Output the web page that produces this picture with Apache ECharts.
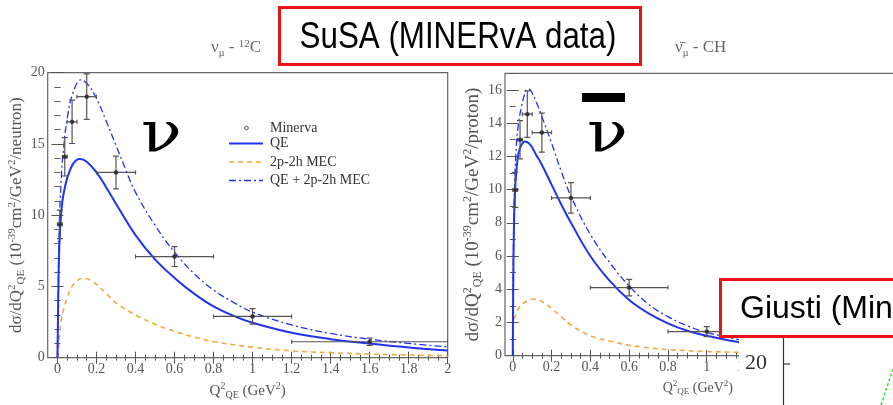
<!DOCTYPE html>
<html>
<head>
<meta charset="utf-8">
<script src="https://cdn.jsdelivr.net/npm/echarts@6/dist/echarts.min.js"></script>
<style>
  html, body { margin: 0; padding: 0; background: #fff; }
  #chart { width: 893px; height: 405px; }
</style>
</head>
<body>
<div id="chart"></div>
<script>
// ---- nu_mu on 12C (per neutron) ----
const nuQeQ2   = [0, 0.005, 0.01, 0.02, 0.03, 0.05, 0.08, 0.115, 0.15, 0.2, 0.25, 0.3, 0.4, 0.5, 0.6, 0.7, 0.8, 0.9, 1.0, 1.2, 1.4, 1.6, 1.8, 2.0];
const nuQe     = [0, 5, 8, 10.3, 11.4, 12.6, 13.6, 13.94, 13.75, 13.0, 11.95, 10.8, 8.6, 6.9, 5.6, 4.5, 3.6, 2.95, 2.45, 1.75, 1.3, 1.0, 0.72, 0.5];
const nuMecQ2  = [0.003, 0.01, 0.02, 0.05, 0.08, 0.13, 0.18, 0.25, 0.3, 0.4, 0.5, 0.6, 0.7, 0.8, 1.0, 1.2, 1.4, 1.6, 1.8, 2.0];
const nuMec    = [0, 1.5, 2.7, 4.2, 5.1, 5.57, 5.35, 4.5, 3.85, 3.0, 2.35, 1.85, 1.45, 1.13, 0.74, 0.48, 0.35, 0.26, 0.19, 0.14];
const nuTotQ2  = [0, 0.005, 0.01, 0.02, 0.03, 0.05, 0.08, 0.12, 0.16, 0.2, 0.25, 0.3, 0.35, 0.4, 0.5, 0.6, 0.7, 0.8, 0.9, 1.0, 1.2, 1.4, 1.6, 1.8, 2.0];
const nuTot    = [0, 6, 9.5, 12.7, 14.5, 16.8, 18.6, 19.5, 19.1, 18.2, 16.6, 14.9, 13.2, 11.6, 9.3, 7.4, 5.9, 4.75, 3.9, 3.2, 2.3, 1.7, 1.3, 1.0, 0.75];
// MINERvA points: bin centre, bin edges, value, error
const nuPtQ2   = [0.0125, 0.0375, 0.075, 0.15, 0.3, 0.6, 1.0, 1.6];
const nuPtLo   = [0, 0.025, 0.05, 0.1, 0.2, 0.4, 0.8, 1.2];
const nuPtHi   = [0.025, 0.05, 0.1, 0.2, 0.4, 0.8, 1.2, 2.0];
const nuPtVal  = [9.36, 14.1, 16.55, 18.32, 13.0, 7.1, 2.9, 1.12];
const nuPtErr  = [1.0, 1.35, 1.52, 1.6, 1.15, 0.7, 0.55, 0.25];

// ---- anti-nu_mu on CH (per proton) ----
const anQeQ2   = [0, 0.004, 0.01, 0.02, 0.03, 0.045, 0.063, 0.09, 0.12, 0.15, 0.2, 0.25, 0.3, 0.4, 0.5, 0.6, 0.7, 0.8, 0.9, 1.0, 1.2, 1.4, 1.6, 1.8, 2.0];
const anQe     = [0, 6, 9.5, 11.3, 12.2, 12.7, 12.9, 12.7, 12.1, 11.5, 10.3, 9.1, 8.0, 6.0, 4.5, 3.35, 2.55, 1.95, 1.5, 1.2, 0.75, 0.5, 0.35, 0.25, 0.18];
const anMecQ2  = [0.008, 0.03, 0.06, 0.11, 0.16, 0.2, 0.25, 0.3, 0.4, 0.5, 0.6, 0.7, 0.8, 0.9, 1.0, 1.2, 1.6, 2.0];
const anMec    = [2.2, 2.85, 3.2, 3.41, 3.2, 2.85, 2.35, 1.85, 1.2, 0.88, 0.63, 0.48, 0.37, 0.3, 0.25, 0.2, 0.14, 0.1];
const anTotQ2  = [0, 0.004, 0.01, 0.02, 0.03, 0.045, 0.06, 0.075, 0.09, 0.12, 0.15, 0.2, 0.25, 0.3, 0.4, 0.5, 0.6, 0.7, 0.8, 0.9, 1.0, 1.2, 1.4, 1.6, 1.8, 2.0];
const anTot    = [0, 7, 10.5, 12.9, 14.0, 15.0, 15.7, 16.05, 16.0, 15.3, 14.4, 12.8, 11.1, 9.6, 7.3, 5.6, 4.2, 3.1, 2.35, 1.8, 1.4, 0.9, 0.62, 0.45, 0.32, 0.24];
const anPtQ2   = [0.0125, 0.0375, 0.075, 0.15, 0.3, 0.6, 1.0];
const anPtLo   = [0, 0.025, 0.05, 0.1, 0.2, 0.4, 0.8];
const anPtHi   = [0.025, 0.05, 0.1, 0.2, 0.4, 0.8, 1.2];
const anPtVal  = [9.98, 13.0, 14.54, 13.43, 9.5, 4.1, 1.45];
const anPtErr  = [1.05, 1.15, 1.4, 1.17, 0.92, 0.5, 0.3];

// ---- axis ticks ----
const xMajor   = [0, 0.2, 0.4, 0.6, 0.8, 1, 1.2, 1.4, 1.6, 1.8, 2];
const xMinor   = [0, 0.05, 0.1, 0.15, 0.2, 0.25, 0.3, 0.35, 0.4, 0.45, 0.5, 0.55, 0.6, 0.65, 0.7, 0.75, 0.8, 0.85, 0.9, 0.95, 1, 1.05, 1.1, 1.15, 1.2, 1.25, 1.3, 1.35, 1.4, 1.45, 1.5, 1.55, 1.6, 1.65, 1.7, 1.75, 1.8, 1.85, 1.9, 1.95, 2];
const nuYMajor = [0, 5, 10, 15, 20];
const nuYMinor = [0, 1, 2, 3, 4, 5, 6, 7, 8, 9, 10, 11, 12, 13, 14, 15, 16, 17, 18, 19, 20];
const anYMajor = [0, 2, 4, 6, 8, 10, 12, 14, 16];
const anYMinor = [0, 1, 2, 3, 4, 5, 6, 7, 8, 9, 10, 11, 12, 13, 14, 15, 16, 17];

const SERIF = "'Liberation Serif', 'Times New Roman', serif";
const SANS = "'Liberation Sans', Arial, sans-serif";
const NU_FONT = "'DejaVu Serif', serif";
const AXIS_GREY = '#555';
const BLUE = '#2233f0';
const ORANGE = '#f7a83c';

const zip = (xs, ys) => xs.map((x, i) => [x, ys[i]]);

function richScript(size) {
  const small = Math.round(size * 0.64);
  return {
    sup: { fontSize: small, fontFamily: SERIF, color: AXIS_GREY, padding: [0, 0, Math.round(size * 0.6), 0] },
    sub: { fontSize: small, fontFamily: SERIF, color: AXIS_GREY, padding: [Math.round(size * 0.55), 0, 0, 0] }
  };
}

function xAxes(grid, min, max, nameSize, namePadRight) {
  const base = { gridIndex: grid, type: 'value', min, max, axisLine: { show: false }, splitLine: { show: false } };
  const tick = (vals, len) => ({ inside: true, length: len, customValues: vals, lineStyle: { color: AXIS_GREY, width: 1 } });
  return [
    Object.assign({}, base, {
      position: 'bottom', axisTick: tick(xMajor, 6),
      axisLabel: { customValues: xMajor, color: AXIS_GREY, fontFamily: SERIF, fontSize: 14, margin: 5 },
      name: 'Q{sup|2}{sub|QE} (GeV{sup|2})', nameLocation: 'middle', nameGap: 22,
      nameTextStyle: { color: AXIS_GREY, fontFamily: SERIF, fontSize: nameSize, padding: [0, namePadRight, 0, 0], rich: richScript(nameSize) }
    }),
    Object.assign({}, base, { position: 'bottom', axisTick: tick(xMinor, 3), axisLabel: { show: false } }),
    Object.assign({}, base, { position: 'top', axisTick: tick(xMajor, 6), axisLabel: { show: false } }),
    Object.assign({}, base, { position: 'top', axisTick: tick(xMinor, 3), axisLabel: { show: false } })
  ];
}

function yAxes(grid, max, major, minor, unit, nameSize, nameGap) {
  const base = { gridIndex: grid, type: 'value', min: 0, max, axisLine: { show: false }, splitLine: { show: false } };
  const tick = (vals, len) => ({ inside: true, length: len, customValues: vals, lineStyle: { color: AXIS_GREY, width: 1 } });
  return [
    Object.assign({}, base, {
      position: 'left', axisTick: tick(major, 6),
      axisLabel: { customValues: major, color: AXIS_GREY, fontFamily: SERIF, fontSize: 14, margin: 3 },
      name: 'dσ/dQ{sup|2}{sub|QE} (10{sup|-39}cm{sup|2}/GeV{sup|2}/' + unit + ')',
      nameLocation: 'middle', nameRotate: 90, nameGap,
      nameTextStyle: { color: AXIS_GREY, fontFamily: SERIF, fontSize: nameSize, rich: richScript(nameSize) }
    }),
    Object.assign({}, base, { position: 'left', axisTick: tick(minor, 3), axisLabel: { show: false } }),
    Object.assign({}, base, { position: 'right', axisTick: tick(major, 6), axisLabel: { show: false } }),
    Object.assign({}, base, { position: 'right', axisTick: tick(minor, 3), axisLabel: { show: false } })
  ];
}

function errorBars(renderColor) {
  return function (params, api) {
    const x = api.value(0), y = api.value(1), lo = api.value(2), hi = api.value(3), e = api.value(4);
    const c = api.coord([x, y]);
    const l = api.coord([lo, y]), r = api.coord([hi, y]);
    const t = api.coord([x, y + e]), b = api.coord([x, y - e]);
    const st = { stroke: renderColor, lineWidth: 1.2, fill: null };
    const cap = 3;
    return {
      type: 'group',
      children: [
        { type: 'line', shape: { x1: l[0], y1: c[1], x2: r[0], y2: c[1] }, style: st },
        { type: 'line', shape: { x1: c[0], y1: t[1], x2: c[0], y2: b[1] }, style: st },
        { type: 'line', shape: { x1: c[0] - cap, y1: t[1], x2: c[0] + cap, y2: t[1] }, style: st },
        { type: 'line', shape: { x1: c[0] - cap, y1: b[1], x2: c[0] + cap, y2: b[1] }, style: st },
        { type: 'line', shape: { x1: l[0], y1: c[1] - 2, x2: l[0], y2: c[1] + 2 }, style: st },
        { type: 'line', shape: { x1: r[0], y1: c[1] - 2, x2: r[0], y2: c[1] + 2 }, style: st },
        { type: 'circle', shape: { cx: c[0], cy: c[1], r: 2 }, style: { fill: '#333', stroke: '#333', lineWidth: 0.5 } }
      ]
    };
  };
}

function panelSeries(xi, yi, qe, mec, tot, pts) {
  const lineBase = { type: 'line', xAxisIndex: xi, yAxisIndex: yi, showSymbol: false, smooth: 0.4, silent: true };
  return [
    Object.assign({}, lineBase, { name: '2p-2h MEC', data: mec, z: 3, lineStyle: { color: ORANGE, width: 1.6, type: [5, 4] } }),
    Object.assign({}, lineBase, { name: 'QE', data: qe, z: 4, lineStyle: { color: BLUE, width: 2 } }),
    Object.assign({}, lineBase, { name: 'QE + 2p-2h MEC', data: tot, z: 5, lineStyle: { color: BLUE, width: 1.3, type: [7, 3, 2, 3] } }),
    { type: 'custom', name: 'Minerva', xAxisIndex: xi, yAxisIndex: yi, renderItem: errorBars('#555'), data: pts, z: 6, silent: true, clip: true }
  ];
}

const nuPts = nuPtQ2.map((q, i) => [q, nuPtVal[i], nuPtLo[i], nuPtHi[i], nuPtErr[i]]);
const anPts = anPtQ2.map((q, i) => [q, anPtVal[i], anPtLo[i], anPtHi[i], anPtErr[i]]);

// legend entries drawn inside the neutrino panel
const legendNames = ['Minerva', 'QE', '2p-2h MEC', 'QE + 2p-2h MEC'];
const legendY = [128, 143.5, 162, 180.5];

const legendGraphics = [];
legendNames.forEach((name, i) => {
  const y = legendY[i];
  if (i === 0) {
    legendGraphics.push({ type: 'circle', shape: { cx: 246.5, cy: y, r: 1.8 }, style: { fill: '#fff', stroke: '#555', lineWidth: 1 }, z: 50 });
  } else {
    const style = [
      null,
      { stroke: BLUE, lineWidth: 2 },
      { stroke: ORANGE, lineWidth: 1.6, lineDash: [5, 4] },
      { stroke: BLUE, lineWidth: 1.3, lineDash: [7, 3, 2, 3] }
    ][i];
    legendGraphics.push({ type: 'line', shape: { x1: 229, y1: y, x2: 263, y2: y }, style, z: 50 });
  }
  legendGraphics.push({
    type: 'text', x: 270, y, z: 50,
    style: { text: name, fill: '#333', font: '14px ' + SERIF, verticalAlign: 'middle' }
  });
});

const headRich = {
  sub: { fontSize: 11, fontFamily: SERIF, fill: '#666', padding: [10, 0, 0, 0] },
  sup: { fontSize: 11, fontFamily: SERIF, fill: '#666', padding: [0, 0, 8, 0] }
};

const chart = echarts.init(document.getElementById('chart'), null, { renderer: 'canvas' });

chart.setOption({
  animation: false,
  backgroundColor: '#fff',
  grid: [
    { left: 47.7, right: 445.3, top: 72.7, bottom: 47.3, show: true, borderColor: '#666', borderWidth: 1.2, backgroundColor: 'transparent', outerBoundsMode: 'none', containLabel: false },
    { left: 505, right: -7.7, top: 73.3, bottom: 49.3, show: true, borderColor: '#666', borderWidth: 1.2, backgroundColor: 'transparent', outerBoundsMode: 'none', containLabel: false }
  ],
  xAxis: [].concat(xAxes(0, -0.05, 2, 15, 0), xAxes(1, -0.04, 2, 14, 10)),
  yAxis: [].concat(yAxes(0, 20, nuYMajor, nuYMinor, 'neutron', 17, 19), yAxes(1, 17, anYMajor, anYMinor, 'proton', 19, 16)),
  series: [].concat(
    panelSeries(0, 0, zip(nuQeQ2, nuQe), zip(nuMecQ2, nuMec), zip(nuTotQ2, nuTot), nuPts),
    panelSeries(4, 4, zip(anQeQ2, anQe), zip(anMecQ2, anMec), zip(anTotQ2, anTot), anPts)
  ),
  graphic: {
    elements: [].concat(legendGraphics, [
      // big neutrino symbols
      { type: 'text', x: 161.5, y: 108, scaleX: 1.2, originX: 0, originY: 0, z: 50, style: { text: 'ν', fill: '#000', font: '56px ' + NU_FONT, align: 'center', verticalAlign: 'top' } },
      { type: 'rect', shape: { x: 582, y: 93, width: 43, height: 9 }, style: { fill: '#000' }, z: 50 },
      { type: 'text', x: 607.5, y: 108, scaleX: 1.2, originX: 0, originY: 0, z: 50, style: { text: 'ν', fill: '#000', font: '56px ' + NU_FONT, align: 'center', verticalAlign: 'top' } },

      // panel headings
      { type: 'text', x: 211, y: 48, z: 50, style: {
          text: 'ν{sub|μ} - {sup|12}C', fill: '#666', font: '17px ' + SERIF, verticalAlign: 'middle', rich: headRich
      } },
      { type: 'text', x: 675, y: 48, z: 50, style: {
          text: 'ν\u0304{sub|μ} - CH', fill: '#666', font: '17px ' + SERIF, verticalAlign: 'middle', rich: headRich
      } },

      // SuSA heading box
      { type: 'rect', shape: { x: 279.5, y: 7.5, width: 361, height: 57 }, style: { fill: '#fff', stroke: '#ee1111', lineWidth: 3 }, z: 60 },
      { type: 'text', x: 458, y: 38, scaleX: 0.87, originX: 0, originY: 0, z: 61, style: { text: 'SuSA (MINERvA data)', fill: '#000', font: '36px ' + SANS, align: 'center', verticalAlign: 'middle' } },

      // neighbouring figure peeking in at the lower right
      { type: 'rect', shape: { x: 739, y: 337, width: 160, height: 70 }, style: { fill: '#fff' }, z: 60 },
      { type: 'text', x: 756, y: 363, z: 61, style: { text: '20', fill: '#333', font: '22px ' + SERIF, align: 'center', verticalAlign: 'middle' } },
      { type: 'line', shape: { x1: 783.5, y1: 337, x2: 783.5, y2: 405 }, style: { stroke: '#333', lineWidth: 1.2 }, z: 61 },
      { type: 'line', shape: { x1: 783.5, y1: 364, x2: 790, y2: 364 }, style: { stroke: '#333', lineWidth: 1.2 }, z: 61 },
      { type: 'line', shape: { x1: 881, y1: 405, x2: 893, y2: 369 }, style: { stroke: '#33dd33', lineWidth: 1.5, lineDash: [3, 2] }, z: 61 },
      { type: 'rect', shape: { x: 720.5, y: 279.5, width: 200, height: 57 }, style: { fill: '#fff', stroke: '#ee1111', lineWidth: 3 }, z: 62 },
      { type: 'text', x: 740, y: 309, z: 63, style: { text: 'Giusti (Minerva)', fill: '#000', font: '32px ' + SANS, verticalAlign: 'middle' } }
    ])
  }
});
</script>
</body>
</html>
